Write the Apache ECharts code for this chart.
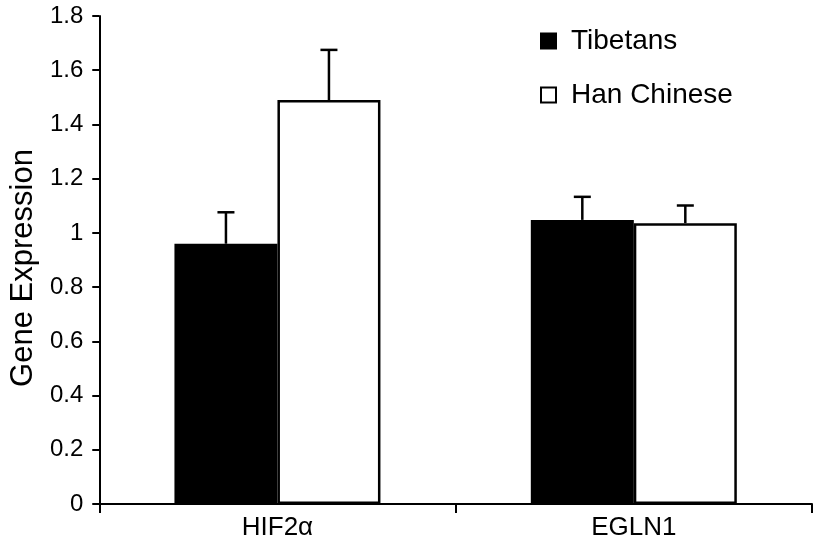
<!DOCTYPE html>
<html>
<head>
<meta charset="utf-8">
<script src="https://cdn.jsdelivr.net/npm/echarts@6/dist/echarts.min.js"></script>
<style>html,body{margin:0;padding:0;background:#fff}#c{width:813px;height:547px}</style>
</head>
<body>
<div id="c"></div>
<script>
const categories = ['HIF2\u03b1', 'EGLN1'];
const tibetans = [0.96, 1.048];
const tibetansErr = [0.116, 0.085];
const han = [1.49, 1.036];
const hanErr = [0.185, 0.065];
const yTicks = [0, 0.2, 0.4, 0.6, 0.8, 1, 1.2, 1.4, 1.6, 1.8];

const FONT = '"Liberation Sans", Arial, sans-serif';
const chart = echarts.init(document.getElementById('c'), null, {renderer: 'canvas'});

function errSeries(vals, errs, offsetSign) {
  return {
    type: 'custom',
    silent: true,
    z: 5,
    data: vals.map((v, i) => [i, v, v + errs[i]]),
    renderItem: function (params, api) {
      const bw = 103;
      const c0 = api.coord([api.value(0), api.value(1)]);
      const c1 = api.coord([api.value(0), api.value(2)]);
      const x = c0[0] + offsetSign * bw / 2;
      const cap = 8.5;
      return {
        type: 'group',
        children: [
          {type: 'line', shape: {x1: x, y1: c0[1], x2: x, y2: c1[1]}, style: {stroke: '#000', lineWidth: 2.5}},
          {type: 'line', shape: {x1: x - cap, y1: c1[1], x2: x + cap, y2: c1[1]}, style: {stroke: '#000', lineWidth: 2.5}}
        ]
      };
    }
  };
}

chart.setOption({
  animation: false,
  grid: {left: 99, right: 1, top: 16, bottom: 43},
  legend: {
    orient: 'vertical',
    left: 535,
    top: 21,
    icon: 'rect',
    itemWidth: 15,
    itemHeight: 15,
    itemGap: 24,
    data: ['Tibetans', 'Han Chinese'],
    textStyle: {fontFamily: FONT, fontSize: 28, color: '#000', lineHeight: 30, padding: [0, 0, 0, 10]}
  },
  xAxis: {
    type: 'category',
    data: categories,
    axisLine: {lineStyle: {color: '#000', width: 2}},
    axisTick: {show: true, length: 9, lineStyle: {color: '#000', width: 2}},
    axisLabel: {color: '#000', fontFamily: FONT, fontSize: 26, margin: 11}
  },
  yAxis: {
    type: 'value',
    min: 0,
    max: 1.8,
    interval: 0.2,
    name: 'Gene Expression',
    nameLocation: 'middle',
    nameRotate: 90,
    nameGap: 56,
    nameTextStyle: {color: '#000', fontFamily: FONT, fontSize: 31, padding: [0, 16, 0, 0]},
    splitLine: {show: false},
    axisLine: {show: true, lineStyle: {color: '#000', width: 2}},
    axisTick: {show: true, length: 7, lineStyle: {color: '#000', width: 2}},
    axisLabel: {color: '#000', fontFamily: FONT, fontSize: 24, margin: 16,
      formatter: function (v) { const t = yTicks.find(x => Math.abs(x - v) < 1e-6); return t === undefined ? '' : String(t); }}
  },
  series: [
    {name: 'Tibetans', type: 'bar', data: tibetans, barWidth: 103, barGap: '0%',
      itemStyle: {color: '#000', borderColor: '#000', borderWidth: 2}},
    {name: 'Han Chinese', type: 'bar', data: han, barWidth: 103, barGap: '0%',
      itemStyle: {color: '#fff', borderColor: '#000', borderWidth: 2.5}},
    errSeries(tibetans, tibetansErr, -1),
    errSeries(han, hanErr, 1)
  ]
});
</script>
</body>
</html>
